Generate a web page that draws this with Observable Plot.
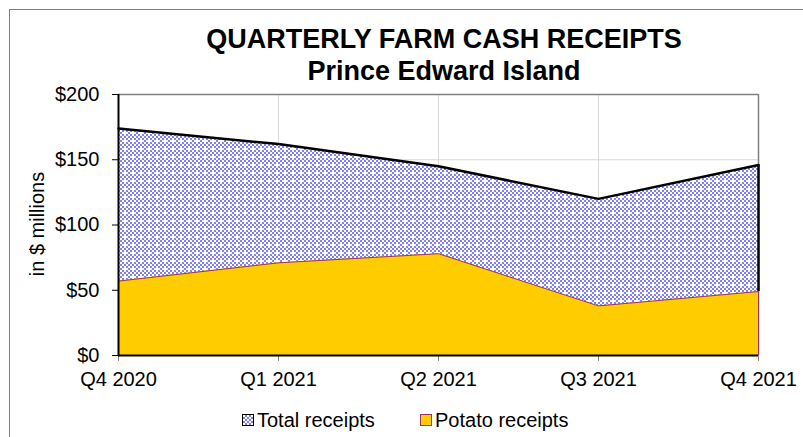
<!DOCTYPE html>
<html>
<head>
<meta charset="utf-8">
<script src="https://cdn.jsdelivr.net/npm/d3@7"></script>
<script src="https://cdn.jsdelivr.net/npm/@observablehq/plot@0.6"></script>
<style>
  body { margin: 0; background: #fff; font-family: "Liberation Sans", Arial, sans-serif; }
  #wrap { position: relative; width: 803px; height: 437px; overflow: hidden; }
  #frame { position: absolute; left: 9px; top: 9px; width: 900px; height: 600px; border: 1px solid #808080; box-sizing: border-box; }
  #title { position: absolute; left: 44px; width: 800px; top: 23px; text-align: center; font-weight: bold; font-size: 27px; line-height: 32px; color: #000; white-space: nowrap; }
  #ylab { position: absolute; left: 37px; top: 224px; transform: translate(-50%, -50%) rotate(-90deg); font-size: 20px; white-space: nowrap; color: #000; }
  .leg { position: absolute; top: 409px; font-size: 20px; line-height: 22px; white-space: nowrap; color: #000; }
  .sw { display: inline-block; width: 10px; height: 10px; vertical-align: 1px; margin-right: 3px; }
  svg { position: absolute; left: 0; top: 0; }
</style>
</head>
<body>
<div id="wrap">
  <div id="frame"></div>
  <div id="chart"></div>
  <div id="title">QUARTERLY FARM CASH RECEIPTS<br>Prince Edward Island</div>
  <div id="ylab">in $ millions</div>
  <div class="leg" style="left:242px"><span class="sw" style="border:1.5px solid #000;background-image:repeating-conic-gradient(#8080ff 0 25%, #fff 0 50%);background-size:4px 4px;"></span>Total receipts</div>
  <div class="leg" style="left:420px"><span class="sw" style="border:1.5px solid #993366;background:#ffcc00;"></span>Potato receipts</div>
</div>
<script>
const quarters = ["Q4 2020", "Q1 2021", "Q2 2021", "Q3 2021", "Q4 2021"];
const totalReceipts = [174, 162, 145, 120, 146];
const potatoReceipts = [57, 71, 78, 38, 49];
const yTicks = [0, 50, 100, 150, 200];

const data = quarters.map((q, i) => ({q, total: totalReceipts[i], potato: potatoReceipts[i]}));
const last = data[data.length - 1];

const plot = Plot.plot({
  width: 803,
  height: 437,
  marginLeft: 118,
  marginRight: 45,
  marginTop: 94,
  marginBottom: 82,
  style: {fontFamily: "'Liberation Sans', Arial, sans-serif", fontSize: "20px", color: "#000", background: "transparent", overflow: "visible"},
  x: {type: "point", domain: quarters, padding: 0, label: null},
  y: {domain: [0, 200], label: null},
  marks: [
    Plot.gridX(quarters, {stroke: "#d9d9d9", strokeOpacity: 1}),
    Plot.gridY([50, 100, 150], {stroke: "#d9d9d9", strokeOpacity: 1}),
    Plot.ruleY([200], {stroke: "#808080", strokeWidth: 1.5}),
    Plot.ruleX([quarters[quarters.length - 1]], {stroke: "#808080", strokeWidth: 1.5}),
    Plot.areaY(data, {x: "q", y: "total", fill: "#0000fe", curve: "linear"}),
    Plot.areaY(data, {x: "q", y: "potato", fill: "#ffcc00", curve: "linear"}),
    Plot.lineY(data, {x: "q", y: "potato", stroke: "#993366", strokeWidth: 1}),
    Plot.ruleX([last], {x: "q", y1: "potato", y2: 0, stroke: "#993366", strokeWidth: 1}),
    Plot.lineY(data, {x: "q", y: "total", stroke: "#000", strokeWidth: 2.5}),
    Plot.ruleX([last], {x: "q", y1: "potato", y2: "total", stroke: "#000", strokeWidth: 2.5}),
    Plot.axisX(quarters, {tickSize: 6, tickPadding: 10, stroke: "#808080", fill: "#000", fontSize: 20}),
    Plot.axisY(yTicks, {tickSize: 6, tickPadding: 13, tickFormat: d => "$" + d, stroke: "#000", fill: "#000", fontSize: 20}),
    Plot.ruleY([0], {stroke: "#000", strokeWidth: 2}),
    Plot.ruleX([quarters[0]], {stroke: "#000", strokeWidth: 2})
  ]
});

// add fill pattern for total receipts
const svg = d3.select(plot);
const defs = svg.insert("defs", ":first-child");
const pat = defs.append("pattern")
  .attr("id", "checker")
  .attr("patternUnits", "userSpaceOnUse")
  .attr("width", 8).attr("height", 8);
pat.append("rect").attr("width", 8).attr("height", 8).attr("fill", "#fff");
const cells = [[0,0],[4,0],[2,2],[6,2],[0,4],[2,6],[6,6]];
cells.forEach(([x, y]) => pat.append("rect").attr("x", x).attr("y", y).attr("width", 2).attr("height", 2).attr("fill", "#8080ff"));
svg.selectAll("[fill='#0000fe']").attr("fill", "url(#checker)");

document.getElementById("chart").appendChild(plot);
</script>
</body>
</html>
